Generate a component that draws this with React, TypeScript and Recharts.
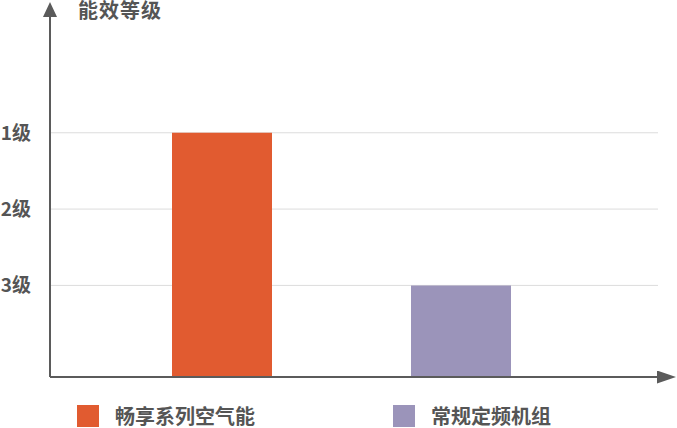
import React from 'react';
import { BarChart, Bar, XAxis, YAxis, CartesianGrid, Legend } from 'recharts';

// categories and their bar heights (in axis units, 1级 highest)
const categories = ['畅享系列空气能', '常规定频机组'];
const seriesKeys = ['premium', 'standard'];
const seriesValues = [3.2, 1.2];
const seriesColors = ['#e15b30', '#9b94ba'];

// y ticks and the label each one shows
const tickValues = [1.2, 2.2, 3.2];
const tickLabels = ['3级', '2级', '1级'];

const FONT = '"Noto Sans CJK SC", "Noto Sans", sans-serif';
const AXIS_COLOR = '#5b5b5b';
const TEXT_COLOR = '#555555';

// one row per category, each filling only its own series key
const data = categories.map((name, i) => ({
  name,
  [seriesKeys[i]]: seriesValues[i],
}));

// legend keeps the category order (stacked payload comes back reversed)
const LegendContent = () => (
  <div style={{ display: 'flex', fontFamily: FONT }}>
    {categories.map((name, i) => (
      <div key={name} style={{ display: 'flex', alignItems: 'center', width: 316 }}>
        <span style={{ width: 22, height: 22, background: seriesColors[i], display: 'inline-block' }} />
        <span style={{ marginLeft: 16, fontSize: 20, color: TEXT_COLOR, fontWeight: 'bold', lineHeight: 1.2 }}>
          {name}
        </span>
      </div>
    ))}
  </div>
);

export default function App() {
  return (
    <div style={{ position: 'absolute', left: 0, top: 0, width: 677, height: 428, background: '#fff' }}>
      <svg width={0} height={0} style={{ position: 'absolute' }}>
        <defs>
          <marker id="arrowY" markerUnits="userSpaceOnUse" markerWidth={15} markerHeight={14}
            viewBox="0 0 15 14" refX={1} refY={7} orient="auto-start-reverse">
            <path d="M0,0 L15,7 L0,14 z" fill={AXIS_COLOR} />
          </marker>
          <marker id="arrowX" markerUnits="userSpaceOnUse" markerWidth={19} markerHeight={13}
            viewBox="0 0 19 13" refX={1} refY={6.5} orient="auto">
            <path d="M0,0 L19,6.5 L0,13 z" fill={AXIS_COLOR} />
          </marker>
        </defs>
      </svg>
      <div style={{ position: 'absolute', left: 78, top: -2, fontFamily: FONT, fontSize: 20, fontWeight: 'bold', letterSpacing: 1, color: TEXT_COLOR, lineHeight: 1.2 }}>
        能效等级
      </div>
      <BarChart width={677} height={428} data={data} margin={{ top: 16, right: 19, left: 0, bottom: 0 }}>
        <CartesianGrid vertical={false} stroke="#dcdcdc" horizontalValues={tickValues} />
        <XAxis
          dataKey="name"
          height={51}
          tick={false}
          tickLine={false}
          padding={{ left: 52, right: 78 }}
          axisLine={{ stroke: AXIS_COLOR, strokeWidth: 2, markerEnd: 'url(#arrowX)' }}
        />
        <YAxis
          width={50}
          domain={[0, 4.73]}
          ticks={tickValues}
          tickLine={false}
          tickMargin={13}
          tickFormatter={(v: number) => tickLabels[tickValues.indexOf(v)]}
          tick={{ fill: TEXT_COLOR, fontSize: 19, fontFamily: FONT, fontWeight: 'bold' }}
          axisLine={{ stroke: AXIS_COLOR, strokeWidth: 2, markerStart: 'url(#arrowY)' }}
        />
        <Legend
          verticalAlign="middle"
          align="center"
          layout="horizontal"
          wrapperStyle={{ top: 404, left: 77, width: 640 }}
          content={<LegendContent />}
        />
        {seriesKeys.map((key, i) => (
          <Bar
            key={key}
            dataKey={key}
            name={categories[i]}
            stackId="level"
            barSize={100}
            fill={seriesColors[i]}
            isAnimationActive={false}
          />
        ))}
      </BarChart>
    </div>
  );
}
